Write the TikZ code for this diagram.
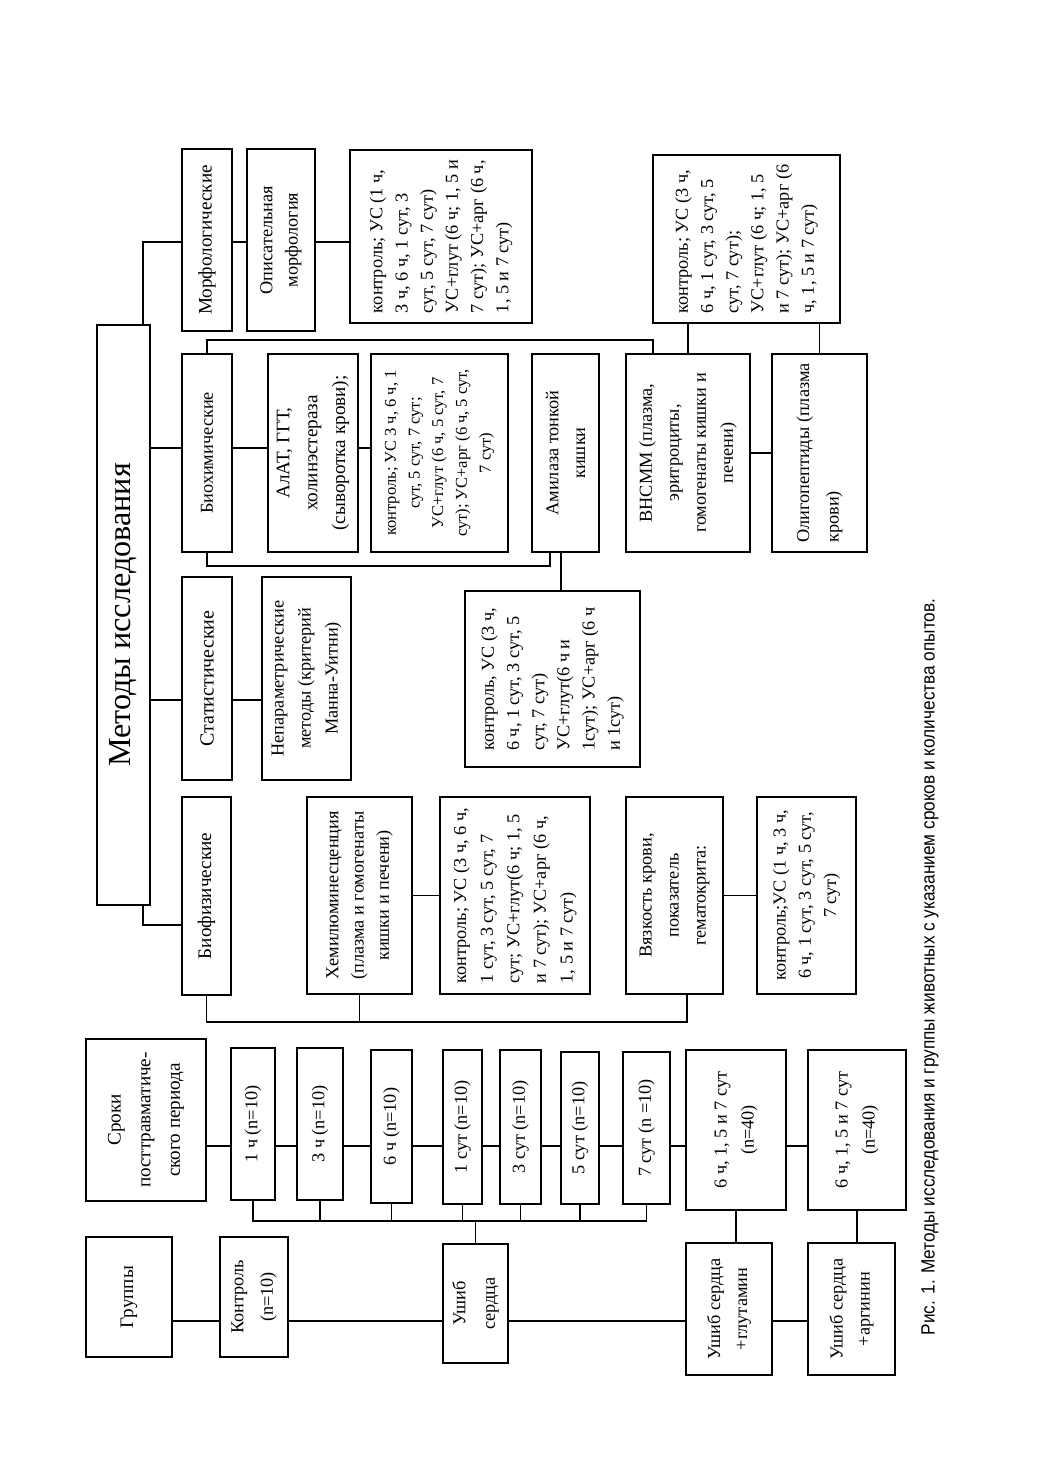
\documentclass[tikz,border=0pt]{standalone}
\usepackage{fontspec}
\setmainfont{Liberation Serif}
\newfontfamily\capfont{Liberation Sans}
\usepackage{tikz}
\newcommand{\pxu}{0.0202cm}
\tikzset{block/.style = {draw, rotate=90, align=center, inner sep=1pt, font=\fontsize{10.5}{14.5}\selectfont}}
\tikzset{leftblock/.style = {block, align=left}}
\tikzset{boxsize/.style 2 args = {minimum width=#1*\pxu, minimum height=#2*\pxu}}
\tikzset{spaced/.style = {font=\fontsize{10.5}{17}\selectfont}}
\tikzset{midspaced/.style = {font=\fontsize{10.5}{15.5}\selectfont}}
\tikzset{head/.style = {font=\fontsize{11}{14}\selectfont}}

\begin{document}
\begin{tikzpicture}[x=\pxu, y=\pxu, line width=1.1pt]
  \useasboundingbox (0,0) rectangle (1040,-1471);

  % groups
  \node [block, boxsize={120}{86}, head] (grp) at (129,-1297) {Группы};
  \node [block, boxsize={120}{68}, spaced] (kontr) at (254,-1297) {Контроль\\(n=10)};
  \node [block, boxsize={119}{65}, spaced] (ushib) at (475.5,-1303.5) {Ушиб\\сердца};
  \node [block, boxsize={132}{86}, midspaced] (uglu) at (729,-1309) {Ушиб сердца\\+глутамин};
  \node [block, boxsize={132}{87}, midspaced] (uarg) at (851.5,-1309) {Ушиб сердца\\+аргинин};

  % periods
  \node [block, boxsize={162}{120}, font=\fontsize{11}{17}\selectfont] (srok) at (146,-1120) {Сроки\\посттравматиче-\\ского периода};
  \node [block, boxsize={152}{44}] (t1) at (253,-1124) {1 ч (n=10)};
  \node [block, boxsize={152}{46}] (t3) at (320,-1124) {3 ч (n=10)};
  \node [block, boxsize={153}{41}] (t6) at (391.5,-1126.5) {6 ч (n=10)};
  \node [block, boxsize={154}{39}] (d1) at (462.5,-1127) {1 сут (n=10)};
  \node [block, boxsize={154}{41}] (d3) at (520.5,-1127) {3 сут (n=10)};
  \node [block, boxsize={152}{38}] (d5) at (580,-1128) {5 сут (n=10)};
  \node [block, boxsize={152}{47}] (d7) at (646.5,-1128) {7 сут (n =10)};
  \node [block, boxsize={160}{100}, midspaced] (pglu) at (736,-1130) {6 ч, 1, 5 и 7 сут\\(n=40)};
  \node [block, boxsize={160}{98}, midspaced] (parg) at (857,-1130) {6 ч, 1, 5 и 7 сут\\(n=40)};

  % methods
  \node [block, boxsize={580}{53}, font=\fontsize{18.5}{22}\selectfont] (met) at (123.5,-615) {Методы исследования};
  \node [block, boxsize={182}{50}, head] (morph) at (207,-240) {Морфологические};
  \node [block, boxsize={182}{68}] (opis) at (281,-240) {Описательная\\морфология};
  \node [leftblock, boxsize={173}{182}] (morphc) at (441,-236.5) {контроль; УС (1 ч,\\3 ч, 6 ч, 1 сут, 3\\сут, 5 сут, 7 сут)\\УС+глут (6 ч; 1, 5 и\\7 сут); УС+арг (6 ч,\\1, 5 и 7 сут)};

  \node [block, boxsize={198}{50}] (bio) at (207,-453) {Биохимические};
  \node [block, boxsize={198}{90}, font=\fontsize{11}{16}\selectfont] (alat) at (313,-453) {АлАТ, ГГТ,\\холинэстераза\\(сыворотка крови);};
  \node [block, boxsize={198}{137}, font=\fontsize{9.5}{13.6}\selectfont] (alatc) at (439.5,-453) {контроль; УС 3 ч, 6 ч, 1\\сут, 5 сут, 7 сут;\\УС+глут (6 ч, 5 сут, 7\\сут); УС+арг (6 ч, 5 сут,\\7 сут)};
  \node [block, boxsize={198}{67}, midspaced] (amil) at (565.5,-453) {Амилаза тонкой\\кишки};
  \node [block, boxsize={198}{124}, midspaced] (vnsmm) at (688,-453) {ВНСММ (плазма,\\эритроциты,\\гомогенаты кишки и\\печени)};
  \node [leftblock, boxsize={198}{95}, spaced] (olig) at (819.5,-453) {Олигопептиды (плазма\\крови)};
  \node [leftblock, boxsize={168}{187}] (oligc) at (746.5,-239) {контроль; УС (3 ч,\\6 ч, 1 сут, 3 сут, 5\\сут, 7 сут);\\УС+глут (6 ч; 1, 5\\и 7 сут); УС+арг (6\\ч, 1, 5 и 7 сут)};
  \node [leftblock, boxsize={176}{175}] (amilc) at (552.5,-679) {контроль, УС (3 ч,\\6 ч, 1 сут, 3 сут, 5\\сут, 7 сут)\\УС+глут(6 ч и\\1сут); УС+арг (6 ч\\и 1сут)};

  \node [block, boxsize={203}{50}, font=\fontsize{11.5}{14}\selectfont] (stat) at (207,-678.5) {Статистические};
  \node [block, boxsize={203}{89}, midspaced] (nonpar) at (306.5,-678.5) {Непараметрические\\методы (критерий\\Манна-Уитни)};

  \node [block, boxsize={198}{49}, head] (biof) at (206.5,-896) {Биофизические};
  \node [block, boxsize={197}{105}] (hemi) at (359.5,-895.5) {Хемилюминесценция\\(плазма и гомогенаты\\кишки и печени)};
  \node [leftblock, boxsize={197}{150}, font=\fontsize{10.5}{15.3}\selectfont] (hemic) at (515,-895.5) {контроль; УС (3 ч, 6 ч,\\1 сут, 3 сут, 5 сут, 7\\сут; УС+глут(6 ч; 1, 5\\и 7 сут); УС+арг (6 ч,\\1, 5 и 7 сут)};
  \node [block, boxsize={197}{97}, midspaced] (vyaz) at (674.5,-895.5) {Вязкость крови,\\показатель\\гематокрита:};
  \node [block, boxsize={197}{99}] (vyazc) at (806.5,-895.5) {контроль;УС (1 ч, 3 ч,\\6 ч, 1 сут, 3 сут, 5 сут,\\7 сут)};

  \node [rotate=90, font=\capfont\fontsize{11}{13}\selectfont] (cap) at (930,-967) {\scalebox{0.9}[1]{Рис. 1. Методы исследования и группы животных с указанием сроков и количества опытов.}};

  % group links
  \coordinate (gl) at (0,-1321);
  \draw (grp.south |- gl) -- (kontr.north |- gl);
  \draw (kontr.south |- gl) -- (ushib.north |- gl);
  \draw (ushib.south |- gl) -- (uglu.north |- gl);
  \draw (uglu.south |- gl) -- (uarg.north |- gl);

  % period links
  \coordinate (tl) at (0,-1146);
  \draw (srok.south |- tl) -- (t1.north |- tl);
  \draw (t1.south |- tl) -- (t3.north |- tl);
  \draw (t3.south |- tl) -- (t6.north |- tl);
  \draw (t6.south |- tl) -- (d1.north |- tl);
  \draw (d1.south |- tl) -- (d3.north |- tl);
  \draw (d3.south |- tl) -- (d5.north |- tl);
  \draw (d5.south |- tl) -- (d7.north |- tl);
  \draw (d7.south |- tl) -- (pglu.north |- tl);
  \draw (pglu.south |- tl) -- (parg.north |- tl);

  \coordinate (tb) at (0,-1221);
  \draw (t1.west) |- (d7.west |- tb) -- (d7.west);
  \draw (t3.west) -- (t3.west |- tb);
  \draw (t6.west) -- (t6.west |- tb);
  \draw (d1.west) -- (d1.west |- tb);
  \draw (d3.west) -- (d3.west |- tb);
  \draw (d5.west) -- (d5.west |- tb);
  \draw (ushib.east) -- (ushib.east |- tb);
  \draw (pglu.west) -- (pglu.west |- uglu.east);
  \draw (parg.west) -- (parg.west |- uarg.east);

  % method links
  \coordinate (ml) at (143,-242);
  \coordinate (bl) at (0,-448);
  \coordinate (sl) at (0,-700);
  \coordinate (fl) at (143,-925);
  \draw (met.east -| ml) |- (morph.north |- ml);
  \draw (morph.south |- ml) -- (opis.north |- ml);
  \draw (opis.south |- ml) -- (morphc.north |- ml);
  \draw (met.south |- bl) -- (bio.north |- bl);
  \draw (bio.south |- bl) -- (alat.north |- bl);
  \draw (alat.south |- bl) -- (alatc.north |- bl);
  \draw (met.south |- sl) -- (stat.north |- sl);
  \draw (stat.south |- sl) -- (nonpar.north |- sl);
  \draw (met.west -| fl) |- (biof.north |- fl);

  \coordinate (bt) at (653,-340);
  \draw (bio.east) |- (bt) -- (bt |- vnsmm.east);
  \coordinate (bb) at (550,-566);
  \draw (bio.west) |- (bb) -- (bb |- amil.west);
  \coordinate (am) at (561,-570);
  \draw (amil.west -| am) -- (amilc.east -| am);
  \draw (vnsmm) -- (olig);
  \draw (vnsmm.east) -- (vnsmm.east |- oligc.west);
  \draw (olig.east) -- (olig.east |- oligc.west);

  \draw (hemi) -- (hemic);
  \draw (vyaz) -- (vyazc);
  \coordinate (fb) at (687,-1022);
  \draw (biof.west) |- (fb) -- (fb |- vyaz.west);
  \draw (hemi.west) -- (hemi.west |- fb);
\end{tikzpicture}
\end{document}
